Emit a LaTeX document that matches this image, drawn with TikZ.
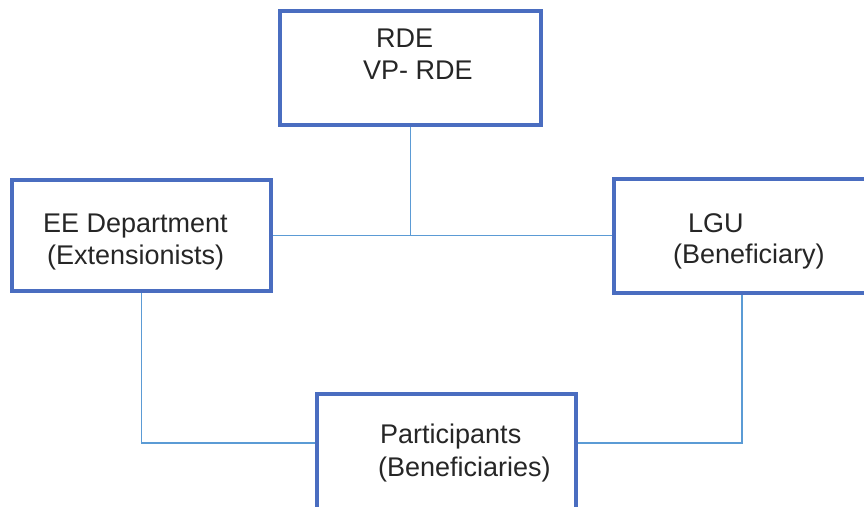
\documentclass[tikz,border=0pt]{standalone}
\usepackage{fontspec}
\setmainfont{Liberation Sans}
\definecolor{boxblue}{HTML}{4A6DC0}
\definecolor{linkblue}{HTML}{5B9BD5}
\definecolor{inkgray}{HTML}{262626}
\begin{document}
\begin{tikzpicture}[x=1pt,y=1pt,
  orgbox/.style={draw=boxblue,line width=4pt,fill=white,inner sep=0pt},
  conn/.style={draw=linkblue,line width=1.5pt},
  lbl/.style={anchor=base west,inner sep=0pt,text=inkgray,font=\fontsize{27}{32}\selectfont}]
\useasboundingbox (0,0) rectangle (864,506);
\clip (0,0) rectangle (864,506);
\fill[white] (0,0) rectangle (864,506);
% boxes
\node[orgbox,minimum width=261pt,minimum height=114pt] (rde) at (410.5,438) {};
\node[orgbox,minimum width=259pt,minimum height=111pt] (ee) at (141.5,270.5) {};
\node[orgbox,minimum width=256pt,minimum height=114pt] (lgu) at (742,270) {};
\node[orgbox,minimum width=259pt,minimum height=126pt] (part) at (446.5,49) {};
% connectors
\coordinate (ylev) at (0,63);
\draw[conn] (rde.south) -- (rde.south |- ee.east);
\draw[conn] (ee.east) -- (lgu.west |- ee.east);
\draw[conn] (ee.south) |- (part.west |- ylev);
\draw[conn] (lgu.south) |- (part.east |- ylev);
% texts
\node[lbl] (t1) at (376,458) {RDE};
\node[lbl] (t2) at (363,426) {VP- RDE};
\node[lbl] (t3) at (43,273) {EE Department};
\node[lbl] (t4) at (47,241) {(Extensionists)};
\node[lbl] (t5) at (688,273) {LGU};
\node[lbl] (t6) at (673,242) {(Beneficiary)};
\node[lbl] (t7) at (380,63) {Participants};
\node[lbl] (t8) at (378,30) {(Beneficiaries)};
\end{tikzpicture}
\end{document}
